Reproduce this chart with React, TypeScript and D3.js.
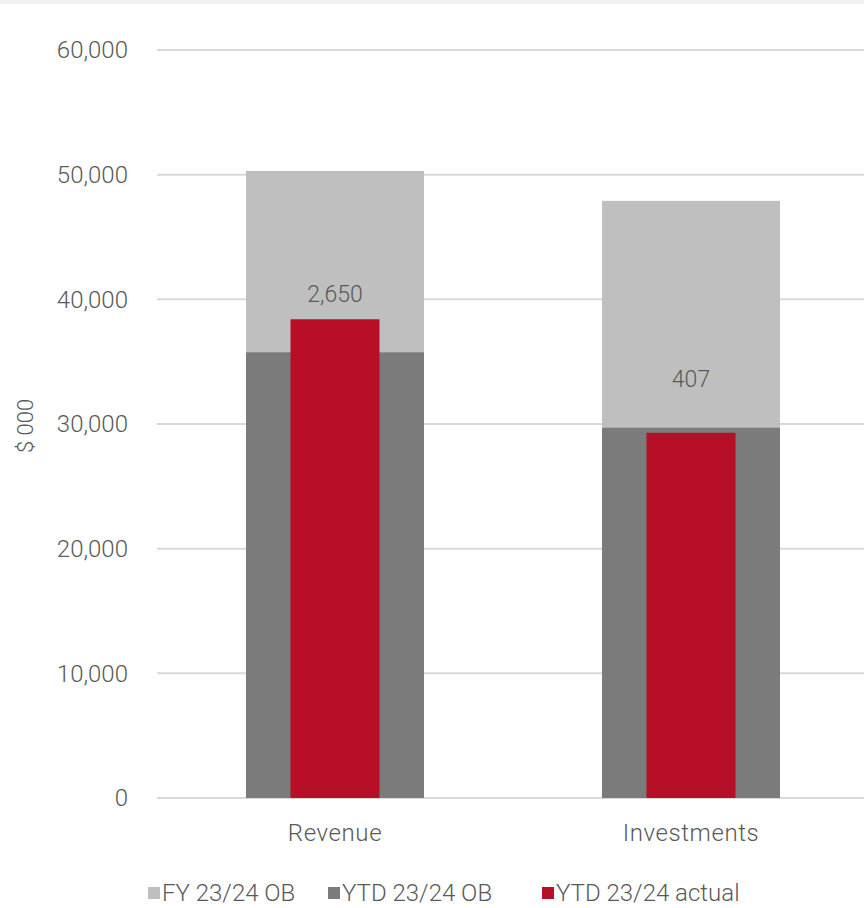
import React from "react";
import * as d3 from "d3";

const categories = ["Revenue", "Investments"];
const fyOB = [50300, 47900];
const ytdOB = [35750, 29700];
const ytdActual = [38400, 29293];
const varianceLabels = ["2,650", "407"];
const varianceLabelAt = [40400, 33600];
const yTicks = [0, 10000, 20000, 30000, 40000, 50000, 60000];
const legendItems = ["FY 23/24 OB", "YTD 23/24 OB", "YTD 23/24 actual"];

const W = 864;
const H = 908;
const COL_FY = "#bfbfbf";
const COL_YTD = "#7b7b7b";
const COL_ACT = "#b60f27";
const TEXT = "#595959";
const FONT = "Roboto, 'Open Sans', sans-serif";

export default function App() {
  const left = 157;
  const right = 869;
  const top = 50;
  const bottom = 798;
  const x = d3.scaleBand<string>().domain(categories).range([left, right]).paddingInner(0).paddingOuter(0);
  const y = d3.scaleLinear().domain([0, 60000]).range([bottom, top]);
  const bw = x.bandwidth();
  const outerW = bw * 0.5;
  const innerW = outerW * 0.5;
  const fmt = d3.format(",");
  const legendX = [148, 328, 542];
  const legendCol = [COL_FY, COL_YTD, COL_ACT];

  return (
    <div style={{ position: "absolute", left: 0, top: 0, width: W, height: H }}>
      <svg width={W} height={H} style={{ display: "block" }} fontFamily={FONT}>
        <rect x={0} y={0} width={W} height={H} fill="#ffffff" />
        <rect x={0} y={0} width={W} height={4} fill="#f2f2f2" />
        {yTicks.map((t) => (
          <g key={t}>
            <line x1={left} x2={W} y1={y(t)} y2={y(t)} stroke="#d9d9d9" strokeWidth={2} />
            <text x={128} y={y(t)} dy="0.35em" textAnchor="end" fontSize={24} fill={TEXT} fontWeight={300}>
              {fmt(t)}
            </text>
          </g>
        ))}
        <text
          transform={`translate(33,${(top + bottom) / 2 + 2}) rotate(-90)`}
          textAnchor="middle"
          fontSize={22}
          fill={TEXT}
          fontWeight={300}
        >
          $ 000
        </text>
        {categories.map((c, i) => {
          const cx = (x(c) as number) + bw / 2;
          return (
            <g key={c}>
              <rect x={cx - outerW / 2} y={y(fyOB[i])} width={outerW} height={y(0) - y(fyOB[i])} fill={COL_FY} />
              <rect x={cx - outerW / 2} y={y(ytdOB[i])} width={outerW} height={y(0) - y(ytdOB[i])} fill={COL_YTD} />
              <rect x={cx - innerW / 2} y={y(ytdActual[i])} width={innerW} height={y(0) - y(ytdActual[i])} fill={COL_ACT} />
              <text x={cx} y={y(varianceLabelAt[i])} dy="0.35em" textAnchor="middle" fontSize={23} fill={TEXT} fontWeight={300}>
                {varianceLabels[i]}
              </text>
              <text x={cx} y={833} dy="0.35em" textAnchor="middle" fontSize={24} fill={TEXT} fontWeight={300} letterSpacing={0.6}>
                {c}
              </text>
            </g>
          );
        })}
        {legendItems.map((l, i) => (
          <g key={l}>
            <rect x={legendX[i]} y={887} width={12} height={12} fill={legendCol[i]} />
            <text x={legendX[i] + 14} y={893} dy="0.35em" fontSize={24} fill={TEXT} fontWeight={300}>
              {l}
            </text>
          </g>
        ))}
      </svg>
    </div>
  );
}
